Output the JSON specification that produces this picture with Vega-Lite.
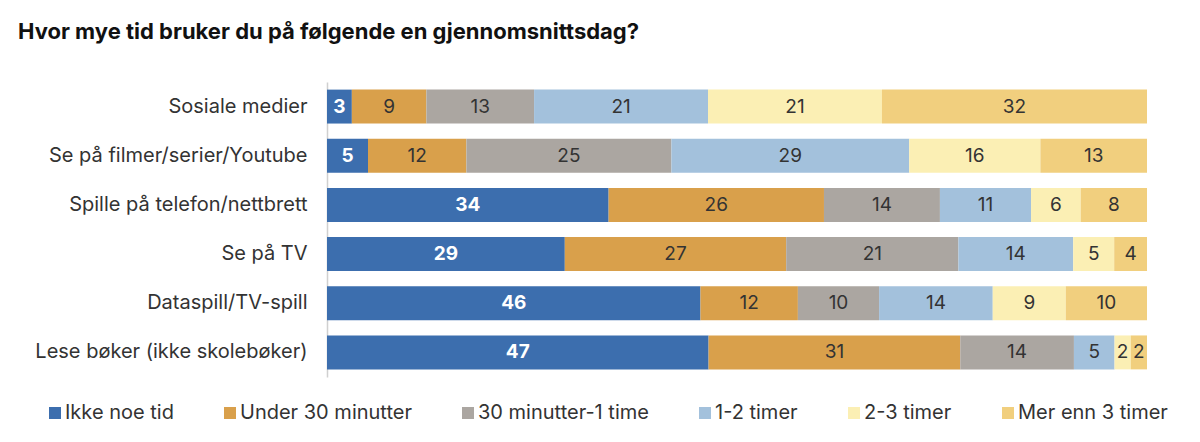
{
  "$schema": "https://vega.github.io/schema/vega-lite/v6.json",
  "autosize": {"type": "none"},
  "padding": {"left": 327, "top": 82, "right": 53, "bottom": 65},
  "width": 820,
  "height": 295,
  "background": "white",
  "config": {
    "font": "Inter",
    "view": {"stroke": null}
  },
  "title": {
    "text": "Hvor mye tid bruker du på følgende en gjennomsnittsdag?",
    "anchor": "start",
    "frame": "group",
    "dx": -309,
    "offset": 38,
    "fontSize": 22,
    "fontWeight": "bold",
    "color": "#111111"
  },
  "data": {
    "values": [
      {"sporsmal": "Sosiale medier", "kategori": "Ikke noe tid", "verdi": 3},
      {"sporsmal": "Sosiale medier", "kategori": "Under 30 minutter", "verdi": 9},
      {"sporsmal": "Sosiale medier", "kategori": "30 minutter-1 time", "verdi": 13},
      {"sporsmal": "Sosiale medier", "kategori": "1-2 timer", "verdi": 21},
      {"sporsmal": "Sosiale medier", "kategori": "2-3 timer", "verdi": 21},
      {"sporsmal": "Sosiale medier", "kategori": "Mer enn 3 timer", "verdi": 32},
      {"sporsmal": "Se på filmer/serier/Youtube", "kategori": "Ikke noe tid", "verdi": 5},
      {"sporsmal": "Se på filmer/serier/Youtube", "kategori": "Under 30 minutter", "verdi": 12},
      {"sporsmal": "Se på filmer/serier/Youtube", "kategori": "30 minutter-1 time", "verdi": 25},
      {"sporsmal": "Se på filmer/serier/Youtube", "kategori": "1-2 timer", "verdi": 29},
      {"sporsmal": "Se på filmer/serier/Youtube", "kategori": "2-3 timer", "verdi": 16},
      {"sporsmal": "Se på filmer/serier/Youtube", "kategori": "Mer enn 3 timer", "verdi": 13},
      {"sporsmal": "Spille på telefon/nettbrett", "kategori": "Ikke noe tid", "verdi": 34},
      {"sporsmal": "Spille på telefon/nettbrett", "kategori": "Under 30 minutter", "verdi": 26},
      {"sporsmal": "Spille på telefon/nettbrett", "kategori": "30 minutter-1 time", "verdi": 14},
      {"sporsmal": "Spille på telefon/nettbrett", "kategori": "1-2 timer", "verdi": 11},
      {"sporsmal": "Spille på telefon/nettbrett", "kategori": "2-3 timer", "verdi": 6},
      {"sporsmal": "Spille på telefon/nettbrett", "kategori": "Mer enn 3 timer", "verdi": 8},
      {"sporsmal": "Se på TV", "kategori": "Ikke noe tid", "verdi": 29},
      {"sporsmal": "Se på TV", "kategori": "Under 30 minutter", "verdi": 27},
      {"sporsmal": "Se på TV", "kategori": "30 minutter-1 time", "verdi": 21},
      {"sporsmal": "Se på TV", "kategori": "1-2 timer", "verdi": 14},
      {"sporsmal": "Se på TV", "kategori": "2-3 timer", "verdi": 5},
      {"sporsmal": "Se på TV", "kategori": "Mer enn 3 timer", "verdi": 4},
      {"sporsmal": "Dataspill/TV-spill", "kategori": "Ikke noe tid", "verdi": 46},
      {"sporsmal": "Dataspill/TV-spill", "kategori": "Under 30 minutter", "verdi": 12},
      {"sporsmal": "Dataspill/TV-spill", "kategori": "30 minutter-1 time", "verdi": 10},
      {"sporsmal": "Dataspill/TV-spill", "kategori": "1-2 timer", "verdi": 14},
      {"sporsmal": "Dataspill/TV-spill", "kategori": "2-3 timer", "verdi": 9},
      {"sporsmal": "Dataspill/TV-spill", "kategori": "Mer enn 3 timer", "verdi": 10},
      {"sporsmal": "Lese bøker (ikke skolebøker)", "kategori": "Ikke noe tid", "verdi": 47},
      {"sporsmal": "Lese bøker (ikke skolebøker)", "kategori": "Under 30 minutter", "verdi": 31},
      {"sporsmal": "Lese bøker (ikke skolebøker)", "kategori": "30 minutter-1 time", "verdi": 14},
      {"sporsmal": "Lese bøker (ikke skolebøker)", "kategori": "1-2 timer", "verdi": 5},
      {"sporsmal": "Lese bøker (ikke skolebøker)", "kategori": "2-3 timer", "verdi": 2},
      {"sporsmal": "Lese bøker (ikke skolebøker)", "kategori": "Mer enn 3 timer", "verdi": 2}
    ]
  },
  "transform": [
    {"calculate": "indexof(['Ikke noe tid', 'Under 30 minutter', '30 minutter-1 time', '1-2 timer', '2-3 timer', 'Mer enn 3 timer'], datum.kategori)", "as": "rekkefolge"},
    {"stack": "verdi", "groupby": ["sporsmal"], "sort": [{"field": "rekkefolge", "order": "ascending"}], "offset": "normalize", "as": ["x0", "x1"]},
    {"calculate": "(datum.x0 + datum.x1) / 2", "as": "midt"}
  ],
  "encoding": {
    "y": {
      "field": "sporsmal",
      "type": "nominal",
      "sort": ["Sosiale medier", "Se på filmer/serier/Youtube", "Spille på telefon/nettbrett", "Se på TV", "Dataspill/TV-spill", "Lese bøker (ikke skolebøker)"],
      "scale": {"paddingInner": 0.31, "paddingOuter": 0.155},
      "axis": {
        "title": null,
        "ticks": false,
        "tickSize": 0,
        "labelPadding": 20,
        "labelFontSize": 20,
        "labelColor": "#333333",
        "labelLimit": 400,
        "domainColor": "#d0d0d0",
        "domainWidth": 1.5,
        "grid": false
      }
    }
  },
  "layer": [
    {
      "mark": {"type": "bar"},
      "encoding": {
        "x": {"field": "x0", "type": "quantitative", "axis": null, "scale": {"domain": [0, 1]}},
        "x2": {"field": "x1"},
        "color": {
          "field": "kategori",
          "type": "nominal",
          "scale": {
            "domain": ["Ikke noe tid", "Under 30 minutter", "30 minutter-1 time", "1-2 timer", "2-3 timer", "Mer enn 3 timer"],
            "range": ["#3c6eae", "#d9a04b", "#aba6a1", "#a3c1dc", "#fbefb4", "#f1cf7e"]
          },
          "legend": {
            "title": null,
            "orient": "none",
            "direction": "horizontal",
            "legendX": -282,
            "legendY": 321,
            "columns": 6,
            "symbolType": "square",
            "symbolSize": 144,
            "symbolStrokeWidth": 0,
            "labelFontSize": 20,
            "labelColor": "#333333",
            "labelOffset": 0,
            "columnPadding": 46,
            "labelLimit": 300
          }
        }
      }
    },
    {
      "transform": [{"filter": "datum.kategori == 'Ikke noe tid'"}],
      "mark": {"type": "text", "fontSize": 19, "fontWeight": "bold", "color": "white"},
      "encoding": {
        "x": {"field": "midt", "type": "quantitative"},
        "text": {"field": "verdi", "type": "quantitative"}
      }
    },
    {
      "transform": [{"filter": "datum.kategori != 'Ikke noe tid'"}],
      "mark": {"type": "text", "fontSize": 19, "color": "#333333"},
      "encoding": {
        "x": {"field": "midt", "type": "quantitative"},
        "text": {"field": "verdi", "type": "quantitative"}
      }
    }
  ]
}
